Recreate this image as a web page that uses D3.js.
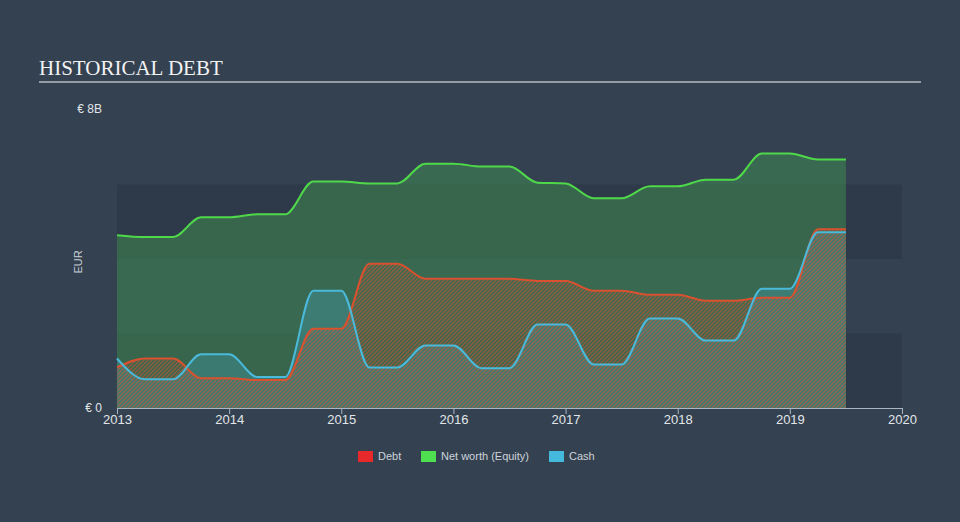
<!DOCTYPE html>
<html>
<head>
<meta charset="utf-8">
<script src="https://cdn.jsdelivr.net/npm/d3@7"></script>
<style>
html,body{margin:0;padding:0;background:#344150;}
svg{display:block;}
</style>
</head>
<body>
<svg id="chart" width="960" height="522"></svg>
<script>
const periods = [2013.0,2013.25,2013.5,2013.75,2014.0,2014.25,2014.5,2014.75,2015.0,2015.25,2015.5,2015.75,2016.0,2016.25,2016.5,2016.75,2017.0,2017.25,2017.5,2017.75,2018.0,2018.25,2018.5,2018.75,2019.0,2019.25,2019.5];
const debt   = [1.09,1.33,1.33,0.80,0.80,0.75,0.75,2.13,2.13,3.87,3.87,3.47,3.47,3.47,3.47,3.41,3.41,3.15,3.15,3.04,3.04,2.88,2.88,2.96,2.96,4.80,4.80];
const equity = [4.64,4.59,4.59,5.12,5.12,5.20,5.20,6.08,6.08,6.03,6.03,6.56,6.56,6.48,6.48,6.05,6.03,5.63,5.63,5.95,5.95,6.13,6.13,6.83,6.83,6.67,6.67];
const cash   = [1.33,0.77,0.77,1.44,1.44,0.83,0.83,3.15,3.15,1.09,1.09,1.68,1.68,1.07,1.07,2.24,2.24,1.17,1.17,2.40,2.40,1.81,1.81,3.20,3.20,4.72,4.72];
const yearTicks = [2013,2014,2015,2016,2017,2018,2019,2020];
const bands = [[0,2],[4,6]];
const legendItems = [["Debt","#e8292b"],["Net worth (Equity)","#4fe04f"],["Cash","#45b9dd"]];

const svg = d3.select("#chart");
const x = d3.scaleLinear().domain([2013,2020]).range([117,902]);
const y = d3.scaleLinear().domain([0,8]).range([408,110]);

// title
svg.append("text").attr("x",39).attr("y",75)
  .attr("font-family","'Liberation Serif','Times New Roman',serif")
  .attr("font-size",21).attr("fill","#f2f2f2").text("HISTORICAL DEBT");
svg.append("line").attr("x1",39).attr("x2",921).attr("y1",82).attr("y2",82)
  .attr("stroke","#b4bac2").attr("stroke-width",1.5);

// bands
svg.selectAll("rect.band").data(bands).enter().append("rect")
  .attr("x",x(2013)).attr("width",x(2020)-x(2013))
  .attr("y",d=>y(d[1])).attr("height",d=>y(d[0])-y(d[1]))
  .attr("fill","#2c3846").attr("opacity",0.7);

// hatch pattern
const defs = svg.append("defs");
const pat = defs.append("pattern").attr("id","hatch").attr("patternUnits","userSpaceOnUse")
  .attr("width",4).attr("height",4);
pat.append("path").attr("d","M-1,1 l2,-2 M0,4 l4,-4 M3,5 l2,-2")
  .attr("stroke","#dc5530").attr("stroke-width",1.3).attr("opacity",0.55);

const data = periods.map((p,i)=>({p, d:debt[i], e:equity[i], c:cash[i]}));
const curve = d3.curveMonotoneX;
const area = key => d3.area().x(d=>x(d.p)).y0(y(0)).y1(d=>y(d[key])).curve(curve);
const line = key => d3.line().x(d=>x(d.p)).y(d=>y(d[key])).curve(curve);

svg.append("path").datum(data).attr("d",area("e")).attr("fill","#3e8450").attr("opacity",0.6);
svg.append("path").datum(data).attr("d",area("c")).attr("fill","#47b8dc").attr("opacity",0.25);
svg.append("path").datum(data).attr("d",area("d")).attr("fill","url(#hatch)");

svg.append("path").datum(data).attr("d",line("e")).attr("fill","none").attr("stroke","#4fd94a").attr("stroke-width",2);
svg.append("path").datum(data).attr("d",line("d")).attr("fill","none").attr("stroke","#d9512f").attr("stroke-width",2);
svg.append("path").datum(data).attr("d",line("c")).attr("fill","none").attr("stroke","#4ab9da").attr("stroke-width",2);

// x axis
const xAxis = d3.axisBottom(x).tickValues(yearTicks).tickFormat(d3.format("d")).tickSize(6).tickSizeOuter(0);
const gx = svg.append("g").attr("transform","translate(0,408)").call(xAxis);
gx.select(".domain").attr("stroke","#aab6c4");
gx.selectAll(".tick line").attr("stroke","#aab6c4");
gx.selectAll(".tick text").attr("fill","#e2e6ea").attr("font-size",13)
  .attr("font-family","'Liberation Sans',Arial,sans-serif").attr("dy","0.55em");

// y labels
const yLabelFont = "'Liberation Sans',Arial,sans-serif";
svg.append("text").attr("x",102).attr("y",y(8)+3).attr("text-anchor","end")
  .attr("font-family",yLabelFont).attr("font-size",12).attr("fill","#e2e6ea").text("€ 8B");
svg.append("text").attr("x",102).attr("y",y(0)+4).attr("text-anchor","end")
  .attr("font-family",yLabelFont).attr("font-size",12).attr("fill","#e2e6ea").text("€ 0");
svg.append("text").attr("transform","translate(82,262) rotate(-90)").attr("text-anchor","middle")
  .attr("font-family",yLabelFont).attr("font-size",11).attr("fill","#c8ced6").text("EUR");

// legend
const lg = svg.append("g");
const legendX = [358,421,549];
legendItems.forEach((it,i)=>{
  lg.append("rect").attr("x",legendX[i]).attr("y",451).attr("width",15).attr("height",11).attr("fill",it[1]);
  lg.append("text").attr("x",legendX[i]+20).attr("y",460).attr("font-family",yLabelFont)
    .attr("font-size",11).attr("fill","#cdd3da").text(it[0]);
});
</script>
</body>
</html>
